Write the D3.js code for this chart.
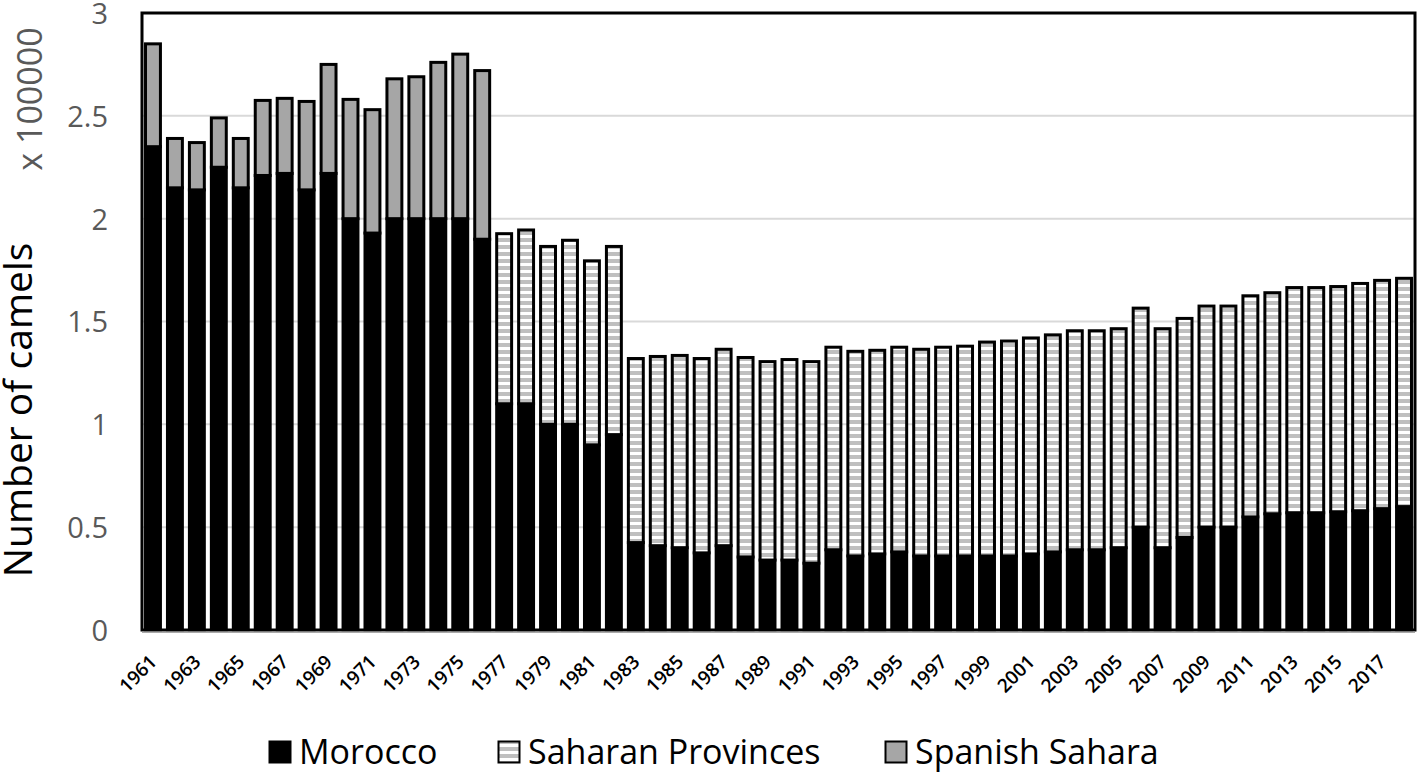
<!DOCTYPE html>
<html>
<head>
<meta charset="utf-8">
<script src="https://cdn.jsdelivr.net/npm/d3@7"></script>
<style>
  body { margin: 0; background: #fff; }
  svg { display: block; font-family: 'Open Sans', sans-serif; }
</style>
</head>
<body>
<svg id="chart"></svg>
<script>
// camel numbers (heads)
const years = d3.range(1961, 2019);

const morocco = [
  235000, 215000, 214000, 225000, 215000, 221000, 222000, 214000, 222000, 200000,
  193000, 200000, 200000, 200000, 200000, 190000, 110000, 110000, 100000, 100000,
  90000, 95000, 42500, 41000, 40000, 37500, 41000, 35500, 34000, 34000,
  32500, 39000, 36000, 37000, 38000, 36000, 36000, 36000, 36000, 36000,
  37000, 38000, 39000, 39000, 40000, 50000, 40000, 45000, 50000, 50000,
  55000, 56500, 57000, 57000, 57500, 58000, 59000, 60000
];

const saharanProvinces = [
  0, 0, 0, 0, 0, 0, 0, 0, 0, 0,
  0, 0, 0, 0, 0, 0, 82700, 84500, 86500, 89500,
  89500, 91500, 89500, 92000, 93500, 94500, 95500, 97000, 96500, 97500,
  98000, 98500, 99500, 99000, 99500, 100500, 101500, 102000, 104000, 104500,
  105000, 105500, 106500, 106500, 106500, 106500, 106500, 106500, 107500, 107500,
  107500, 107500, 109500, 109500, 109500, 110500, 111000, 111000
];

const spanishSahara = [
  50000, 24000, 23000, 24000, 24000, 36500, 36500, 43000, 53000, 58000,
  60000, 68000, 69000, 76000, 80000, 82000, 0, 0, 0, 0,
  0, 0, 0, 0, 0, 0, 0, 0, 0, 0,
  0, 0, 0, 0, 0, 0, 0, 0, 0, 0,
  0, 0, 0, 0, 0, 0, 0, 0, 0, 0,
  0, 0, 0, 0, 0, 0, 0, 0
];

const seriesNames = ["Morocco", "Saharan Provinces", "Spanish Sahara"];
const yTicks = [0, 50000, 100000, 150000, 200000, 250000, 300000];
const xLabelYears = years.filter(y => (y - 1961) % 2 === 0);

const width = 1418, height = 773;
const plot = { left: 142, right: 1415, top: 13, bottom: 630 };

const svg = d3.select("#chart").attr("width", width).attr("height", height);

// horizontal stripe fill for Saharan Provinces
const defs = svg.append("defs");
const pat = defs.append("pattern")
  .attr("id", "stripes")
  .attr("patternUnits", "userSpaceOnUse")
  .attr("width", 7).attr("height", 7);
pat.append("rect").attr("width", 7).attr("height", 7).attr("fill", "#fff");
pat.append("rect").attr("width", 7).attr("height", 4).attr("fill", "#bfbfbf");

const fills = {
  "Morocco": "#000",
  "Saharan Provinces": "url(#stripes)",
  "Spanish Sahara": "#a6a6a6"
};

const table = years.map((y, i) => ({
  year: y,
  "Morocco": morocco[i],
  "Saharan Provinces": saharanProvinces[i],
  "Spanish Sahara": spanishSahara[i]
}));

const x = d3.scaleBand()
  .domain(years)
  .range([plot.left, plot.right])
  .paddingInner(0.32)
  .paddingOuter(0.16);

const y = d3.scaleLinear()
  .domain([0, 300000])
  .range([plot.bottom, plot.top]);

// gridlines
svg.append("g")
  .selectAll("line")
  .data(yTicks.slice(1, -1))
  .join("line")
  .attr("x1", plot.left).attr("x2", plot.right)
  .attr("y1", d => y(d)).attr("y2", d => y(d))
  .attr("stroke", "#d9d9d9")
  .attr("stroke-width", 2);

// stacked bars
const stacked = d3.stack().keys(seriesNames)(table);

svg.append("g")
  .selectAll("g")
  .data(stacked)
  .join("g")
  .attr("fill", d => fills[d.key])
  .selectAll("rect")
  .data(d => d.filter(s => s[1] - s[0] > 0))
  .join("rect")
  .attr("x", d => x(d.data.year))
  .attr("width", x.bandwidth())
  .attr("y", d => y(d[1]))
  .attr("height", d => y(d[0]) - y(d[1]))
  .attr("stroke", "#000")
  .attr("stroke-width", 3);

// plot frame
svg.append("rect")
  .attr("x", plot.left).attr("y", plot.top)
  .attr("width", plot.right - plot.left)
  .attr("height", plot.bottom - plot.top)
  .attr("fill", "none")
  .attr("stroke", "#000")
  .attr("stroke-width", 3);

svg.append("line")
  .attr("x1", plot.left).attr("x2", plot.right)
  .attr("y1", plot.bottom + 2).attr("y2", plot.bottom + 2)
  .attr("stroke", "#8c8c8c")
  .attr("stroke-width", 1.5);

// y axis labels
const yAxis = svg.append("g")
  .attr("transform", `translate(${plot.left - 34},0)`)
  .call(d3.axisLeft(y).tickValues(yTicks).tickSize(0).tickPadding(0)
    .tickFormat(d => d3.format("~g")(d / 100000)));
yAxis.select(".domain").remove();
yAxis.selectAll("text")
  .attr("font-family", "'Open Sans', sans-serif")
  .attr("font-size", 29)
  .attr("dy", "0.36em")
  .attr("fill", "#595959");

// x axis labels
const xAxis = svg.append("g")
  .attr("transform", `translate(0,${plot.bottom})`)
  .call(d3.axisBottom(x).tickValues(xLabelYears).tickSize(0));
xAxis.select(".domain").remove();
xAxis.selectAll("text")
  .attr("y", 0).attr("dy", 0)
  .attr("text-anchor", "end")
  .attr("font-family", "'Open Sans', sans-serif")
  .attr("font-size", 19)
  .attr("font-weight", 600)
  .attr("fill", "#000")
  .attr("transform", "translate(5,33) rotate(-45)");

// axis titles
svg.append("text")
  .attr("transform", "translate(32,410) rotate(-90)")
  .attr("text-anchor", "middle")
  .attr("font-size", 39)
  .attr("fill", "#000")
  .text("Number of camels");

svg.append("text")
  .attr("transform", "translate(42,99) rotate(-90)")
  .attr("text-anchor", "middle")
  .attr("font-size", 34)
  .attr("fill", "#595959")
  .text("x 100000");

// legend
const legendX = [268, 497, 884];
const legend = svg.append("g")
  .selectAll("g")
  .data(seriesNames)
  .join("g")
  .attr("transform", (d, i) => `translate(${legendX[i]},740)`);

legend.append("rect")
  .attr("x", 1.5).attr("y", 1.5)
  .attr("width", 21).attr("height", 21)
  .attr("fill", d => fills[d])
  .attr("stroke", "#000")
  .attr("stroke-width", 2);

legend.append("text")
  .attr("x", 31)
  .attr("y", 24)
  .attr("font-size", 34)
  .attr("fill", "#000")
  .text(d => d);
</script>
</body>
</html>
